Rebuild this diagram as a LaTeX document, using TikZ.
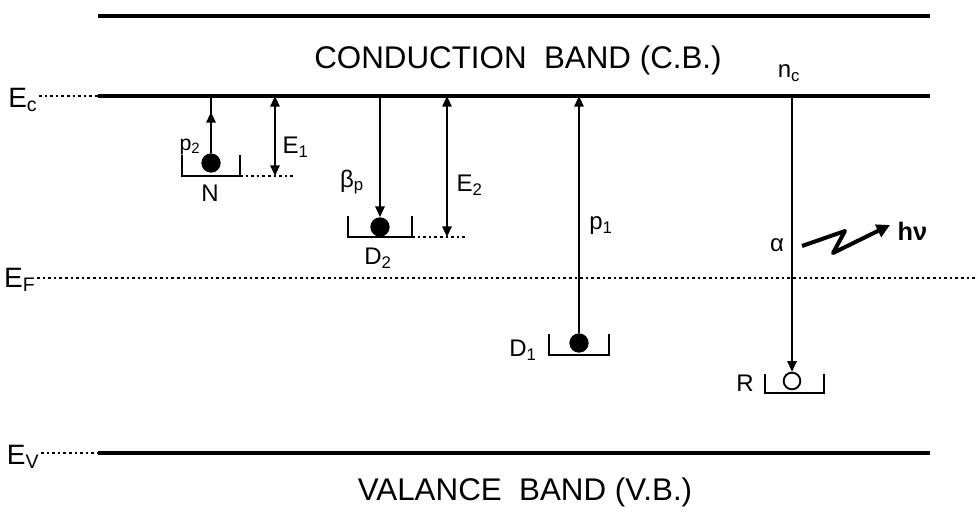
\documentclass[tikz,border=0pt]{standalone}
\usepackage{fontspec}
\setmainfont{Liberation Sans}
\usetikzlibrary{arrows.meta,decorations.markings}
\begin{document}
\begin{tikzpicture}[x=0.75pt,y=-0.75pt,
    band/.style={line width=3.4pt},
    level/.style={line width=0.8pt, dash pattern=on 2pt off 2.2pt},
    trans/.style={line width=1.4pt},
    trap/.style={line width=1.4pt},
    dot/.style={circle, fill=black, inner sep=0pt, minimum size=14.5pt},
    hole/.style={circle, draw, line width=1.4pt, inner sep=0pt, minimum size=12.5pt},
    lab/.style={font=\fontsize{18}{18}\selectfont, inner sep=1pt},
    biglab/.style={font=\fontsize{21}{21}\selectfont, inner sep=1pt},
    bandlab/.style={font=\fontsize{23.5}{23.5}\selectfont},
    tip/.style={-{Triangle[length=8pt,width=7pt]}},
    midup/.style={postaction={decorate}, decoration={markings,
      mark=at position #1 with {\arrow{Triangle[length=8pt,width=7pt]}}}}]
  \useasboundingbox (0,0) rectangle (978,519);

  % bands
  \coordinate (cbL) at (98,16);  \coordinate (cbR) at (930,16);
  \coordinate (ecL) at (98,96);  \coordinate (ecR) at (930,96);
  \coordinate (evL) at (98,453); \coordinate (evR) at (930,453);
  \coordinate (efR) at (978,278);
  \draw[band] (cbL) -- (cbR);
  \draw[band] (ecL) -- (ecR);
  \draw[band] (evL) -- (evR);
  \node[bandlab] (cb) at (518,60) {CONDUCTION\ \ BAND (C.B.)};
  \node[bandlab] (vb) at (525,492) {VALANCE\ \ BAND (V.B.)};

  % levels
  \node[biglab, anchor=east] (ec) at (39,100) {E\textsubscript{c}};
  \node[biglab, anchor=east] (ef) at (37,280) {E\textsubscript{F}};
  \node[biglab, anchor=east] (ev) at (41,457) {E\textsubscript{V}};
  \draw[level] (ecL -| ec.east) -- (ecL);
  \draw[level] (efR -| ef.east) -- (efR);
  \draw[level] (evL -| ev.east) -- (evL);

  % traps
  \foreach \name/\x/\y/\w/\dy in {N/211/176/29/13, D2/380/237/32/10, D1/579/355/30/12}{
    \draw[trap] (\x-\w,\y-21) -- (\x-\w,\y) -- (\x+\w,\y) -- (\x+\w,\y-21);
    \node[dot] (\name dot) at (\x,\y-\dy) {};
  }
  \draw[trap] (765,374) -- (765,393) -- (824,393) -- (824,374);
  \node[hole] (Rdot) at (792,381) {};
  \node[lab] (N) at (210,193) {N};
  \node[lab] (D2) at (378,258) {D\textsubscript{2}};
  \node[lab] (D1) at (523,350) {D\textsubscript{1}};
  \node[lab] (R) at (745,383) {R};

  % energy depths
  \coordinate (e1t) at (275,96);  \coordinate (e1b) at (275,176);
  \coordinate (e2t) at (447,96);  \coordinate (e2b) at (447,237);
  \draw[level] (240,176) -- (295,176);
  \draw[level] (412,237) -- (468,237);
  \draw[trans, {Triangle[length=8pt,width=7pt]}-{Triangle[length=8pt,width=7pt]}] (e1t) -- (e1b);
  \draw[trans, {Triangle[length=8pt,width=7pt]}-{Triangle[length=8pt,width=7pt]}] (e2t) -- (e2b);
  \node[lab, anchor=west] (E1) at (281,147) {E\textsubscript{1}};
  \node[lab, anchor=west] (E2) at (455,185) {E\textsubscript{2}};

  % transitions
  \draw[trans, midup=0.72] (Ndot) -- (Ndot |- ecL);
  \node[lab, font=\fontsize{16}{16}\selectfont] (p2) at (190,147) {p\textsubscript{2}};
  \draw[trans, tip] (ecL -| D2dot) -- (D2dot.north);
  \node[lab] (bp) at (352,182) {β\textsubscript{p}};
  \draw[trans, tip] (D1dot) -- (D1dot |- ecL);
  \node[lab] (p1) at (601,226) {p\textsubscript{1}};
  \draw[trans, tip] (ecL -| Rdot) -- (Rdot.north);
  \node[lab] (nc) at (789,73) {n\textsubscript{c}};
  \node[lab] (alpha) at (777,245) {α};

  % photon
  \coordinate (ph0) at (802,246);
  \coordinate (ph3) at (890,225);
  \draw[line width=3pt, line join=round, -{Triangle[length=10pt,width=10pt]}]
    (ph0) -- (845,231) -- (833,253) -- (ph3);
  \node[lab, font=\bfseries\fontsize{19}{19}\selectfont, anchor=west] (hnu) at (896,231) {hν};
\end{tikzpicture}
\end{document}
